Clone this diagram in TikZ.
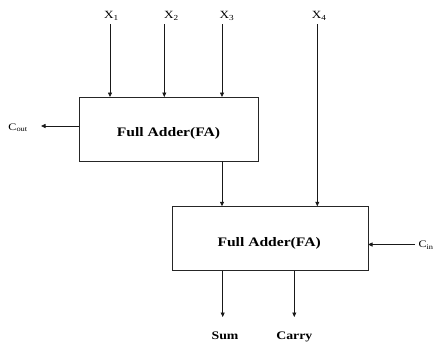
\documentclass[tikz,border=0pt]{standalone}
\usepackage{fontspec}
\setmainfont{Liberation Serif}[FakeStretch=1.2]
\usetikzlibrary{positioning, arrows.meta, calc}

\begin{document}
\begin{tikzpicture}[
    x=1pt, y=-1pt,
    adder/.style={
        rectangle,
        draw=black!85,
        line width=1pt,
        inner sep=0pt,
        outer sep=0pt
    },
    adder_text/.style={
        font=\fontsize{13}{15}\selectfont\bfseries,
        anchor=base west,
        inner sep=0pt
    },
    in_text/.style={
        font=\fontsize{11}{13}\selectfont,
        anchor=base west,
        inner sep=0pt
    },
    carry_text/.style={
        font=\fontsize{10}{12}\selectfont,
        anchor=base west,
        inner sep=0pt
    },
    out_text/.style={
        font=\fontsize{11.5}{13}\selectfont\bfseries,
        anchor=base,
        inner sep=0pt
    },
    wire/.style={
        draw=black!90,
        line width=0.8pt,
        -{Triangle[length=4.5pt,width=4pt]}
    }
]
    \useasboundingbox (0,0) rectangle (435,341);

    % Adders
    \node[adder, minimum width=179pt, minimum height=64pt] (fa1) at (168.5,129) {};
    \node[adder_text] (fa1_lbl) at (116.7,136.7) {Full Adder(FA)};
    \node[adder, minimum width=196pt, minimum height=64.5pt] (fa2) at (270,238.5) {};
    \node[adder_text] (fa2_lbl) at (217.3,246.7) {Full Adder(FA)};

    % Inputs
    \node[in_text] (x1) at (104,18.7) {X\textsubscript{1}};
    \node[in_text] (x2) at (164,18.7) {X\textsubscript{2}};
    \node[in_text] (x3) at (219.3,18.7) {X\textsubscript{3}};
    \node[in_text] (x4) at (311.7,18.7) {X\textsubscript{4}};
    \coordinate (x1top) at (110,24);
    \coordinate (x2top) at (164.3,24);
    \coordinate (x3top) at (222,24);
    \coordinate (x4top) at (317.3,24);
    \draw[wire] (x1top) -- (x1top |- fa1.north);
    \draw[wire] (x2top) -- (x2top |- fa1.north);
    \draw[wire] (x3top) -- (x3top |- fa1.north);
    \draw[wire] (x4top) -- (x4top |- fa2.north);

    % Carry in / out
    \node[carry_text] (cout) at (8.3,130) {C\textsubscript{out}};
    \coordinate (couttip) at (41,126);
    \draw[wire] (fa1.west |- couttip) -- (couttip);
    \node[carry_text] (cin) at (418.3,247.7) {C\textsubscript{in}};
    \coordinate (cinstart) at (415,244.5);
    \draw[wire] (cinstart) -- (fa2.east |- cinstart);

    % Between adders
    \draw[wire] (fa1.south -| x3top) -- (fa2.north -| x3top);

    % Outputs
    \node[out_text] (sum) at (225,339) {Sum};
    \node[out_text] (carry) at (294.3,339) {Carry};
    \coordinate (sumtip) at (222.7,317);
    \coordinate (carrytip) at (294.3,317);
    \draw[wire] (fa2.south -| sumtip) -- (sumtip);
    \draw[wire] (fa2.south -| carrytip) -- (carrytip);

\end{tikzpicture}
\end{document}
